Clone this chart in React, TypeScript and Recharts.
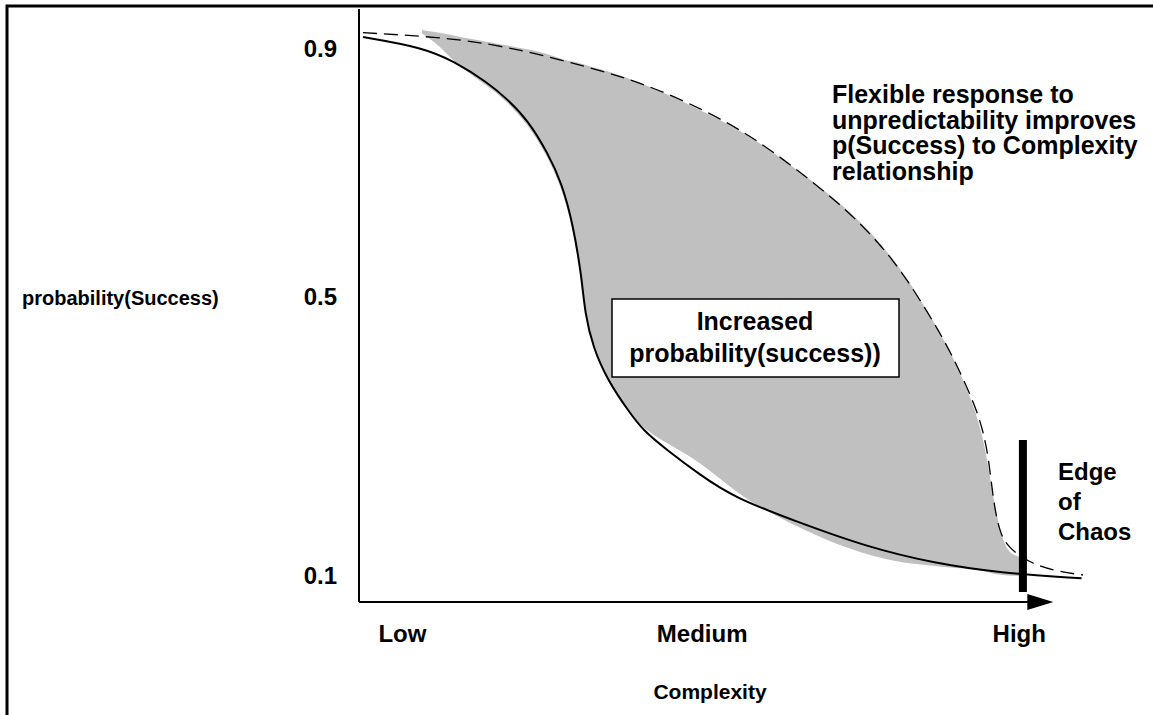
import React from "react";
import { ComposedChart, XAxis, YAxis, Area, Line, ReferenceLine } from "recharts";

const FONT = "'Liberation Sans', Arial, Helvetica, sans-serif";

// x axis: complexity (0..10), y axis: probability(Success)
const complexityTicks = [0.6, 4.74, 9.12];
const complexityLabels = ["Low", "Medium", "High"];
const successTicks = [0.1, 0.5, 0.9];

// solid curve: base p(Success) vs complexity
const baseX = [0.055, 0.87, 1.33, 1.78, 2.02, 2.33, 2.61, 2.8, 2.96, 3.08, 3.12, 3.23, 3.43, 3.74, 3.92, 4.25, 4.71, 5.17, 6.09, 7.02, 7.93, 8.85, 9.98];
const baseY = [0.9175, 0.902, 0.88, 0.848, 0.826, 0.792, 0.741, 0.696, 0.632, 0.549, 0.499, 0.447, 0.397, 0.347, 0.321, 0.291, 0.253, 0.219, 0.18, 0.1435, 0.119, 0.104, 0.096];

// dashed curve: flexible response
const flexX = [0.055, 1.33, 2.25, 3.16, 3.91, 4.71, 5.4, 6.09, 6.78, 7.4, 7.86, 8.16, 8.48, 8.62, 8.7, 8.76, 8.84, 8.95, 9.27, 9.61, 10];
const flexY = [0.924, 0.916, 0.898, 0.872, 0.848, 0.81, 0.769, 0.713, 0.652, 0.579, 0.499, 0.4425, 0.367, 0.321, 0.2755, 0.215, 0.169, 0.1435, 0.119, 0.107, 0.101];

// grey band: increased probability(success)
const bandX = [0.87, 1.12, 1.33, 1.78, 2.02, 2.33, 2.61, 2.8, 2.96, 3.08, 3.16, 3.33, 3.56, 3.88, 4.25, 4.71, 5.17, 5.54, 6.09, 6.78, 7.4, 7.86, 8.16, 8.48, 8.65, 8.76, 8.9, 9.02, 9.16];
const bandLow = [0.923, 0.904, 0.877, 0.843, 0.822, 0.786, 0.735, 0.688, 0.625, 0.544, 0.476, 0.418, 0.37, 0.326, 0.301, 0.2725, 0.23, 0.203, 0.172, 0.139, 0.121, 0.116, 0.112, 0.11, 0.107, 0.1025, 0.101, 0.0995, 0.0995];
const bandHigh = [0.928, 0.924, 0.919, 0.91, 0.905, 0.899, 0.892, 0.884, 0.88, 0.877, 0.874, 0.869, 0.861, 0.848, 0.831, 0.807, 0.781, 0.757, 0.713, 0.655, 0.582, 0.5, 0.443, 0.364, 0.298, 0.215, 0.147, 0.131, 0.128];

const edgeOfChaos = 9.17;
const edgeRange = [0.075, 0.306];
const arrowEnd = 9.59;

const baseData = baseX.map((x, i) => ({ x, y: baseY[i] }));
const flexData = flexX.map((x, i) => ({ x, y: flexY[i] }));
const bandData = bandX.map((x, i) => ({ x, band: [bandLow[i], bandHigh[i]] }));

// the middle label sits a little higher than a linear axis would put it
const midTickLift = 15;

const YTick = (p: any) => {
  const v = p.payload.value;
  return (
    <text
      x={p.x}
      y={p.y}
      dy={v === 0.5 ? -midTickLift + 8 : 8}
      textAnchor="end"
      fontFamily={FONT}
      fontSize={24}
      fontWeight={700}
      fill="#000"
    >
      {v}
    </text>
  );
};

const tickStyle = { fill: "#000", fontSize: 24, fontWeight: 700, fontFamily: FONT };

const Arrow = (p: any) => (
  <g>
    <line x1={p.x1} y1={p.y1} x2={p.x2 - 20} y2={p.y2} stroke="#000" strokeWidth={2} />
    <polygon points={`${p.x2 - 26},${p.y2 - 8} ${p.x2},${p.y2} ${p.x2 - 26},${p.y2 + 8}`} fill="#000" />
  </g>
);

const txt = { fontFamily: FONT, fontWeight: 700, fill: "#000" } as const;

export default function App() {
  return (
    <div style={{ position: "absolute", left: 0, top: 0, width: 1153, height: 715, overflow: "hidden", background: "#fff" }}>
      <ComposedChart width={1153} height={715} margin={{ top: 9, right: 70, bottom: 53, left: 0 }}>
        <XAxis
          type="number"
          dataKey="x"
          domain={[0, 10]}
          ticks={complexityTicks}
          interval={0}
          tickFormatter={(v) => complexityLabels[complexityTicks.indexOf(v)]}
          axisLine={false}
          tickLine={false}
          tickSize={0}
          tickMargin={23}
          height={60}
          tick={tickStyle}
        />
        <YAxis
          type="number"
          domain={[0.06, 0.96]}
          ticks={successTicks}
          interval={0}
          width={359}
          axisLine={{ stroke: "#000", strokeWidth: 2 }}
          tickLine={false}
          tickSize={0}
          tickMargin={22}
          tick={<YTick />}
        />
        <Area data={bandData} dataKey="band" type="basis" fill="#c0c0c0" fillOpacity={1} stroke="none" isAnimationActive={false} />
        <Line data={flexData} dataKey="y" type="basis" stroke="#000" strokeWidth={1.3} strokeDasharray="14 7" dot={false} isAnimationActive={false} />
        <Line data={baseData} dataKey="y" type="basis" stroke="#000" strokeWidth={2} dot={false} isAnimationActive={false} />
        <ReferenceLine segment={[{ x: 0, y: 0.06 }, { x: arrowEnd, y: 0.06 }]} shape={Arrow} />
        <ReferenceLine segment={[{ x: edgeOfChaos, y: edgeRange[0] }, { x: edgeOfChaos, y: edgeRange[1] }]} stroke="#000" strokeWidth={8} />
      </ComposedChart>
      <svg width={1153} height={715} style={{ position: "absolute", left: 0, top: 0, pointerEvents: "none" }}>
        <rect x={7} y={6} width={1200} height={800} fill="none" stroke="#000" strokeWidth={3} />
        <text x={22} y={305} fontSize={20} {...txt}>probability(Success)</text>
        <text x={710} y={699} textAnchor="middle" fontSize={21} {...txt}>Complexity</text>
        <text fontSize={25} {...txt}>
          <tspan x={832} y={103}>Flexible response to</tspan>
          <tspan x={832} y={128.5}>unpredictability improves</tspan>
          <tspan x={832} y={154}>p(Success) to Complexity</tspan>
          <tspan x={832} y={179.5}>relationship</tspan>
        </text>
        <text fontSize={24} {...txt}>
          <tspan x={1058} y={480}>Edge</tspan>
          <tspan x={1058} y={510}>of</tspan>
          <tspan x={1058} y={540}>Chaos</tspan>
        </text>
        <rect x={612} y={299} width={287} height={78} fill="#fff" stroke="#000" strokeWidth={1.5} />
        <text textAnchor="middle" fontSize={25} {...txt}>
          <tspan x={755} y={330}>Increased</tspan>
          <tspan x={755} y={362}>probability(success))</tspan>
        </text>
      </svg>
    </div>
  );
}
